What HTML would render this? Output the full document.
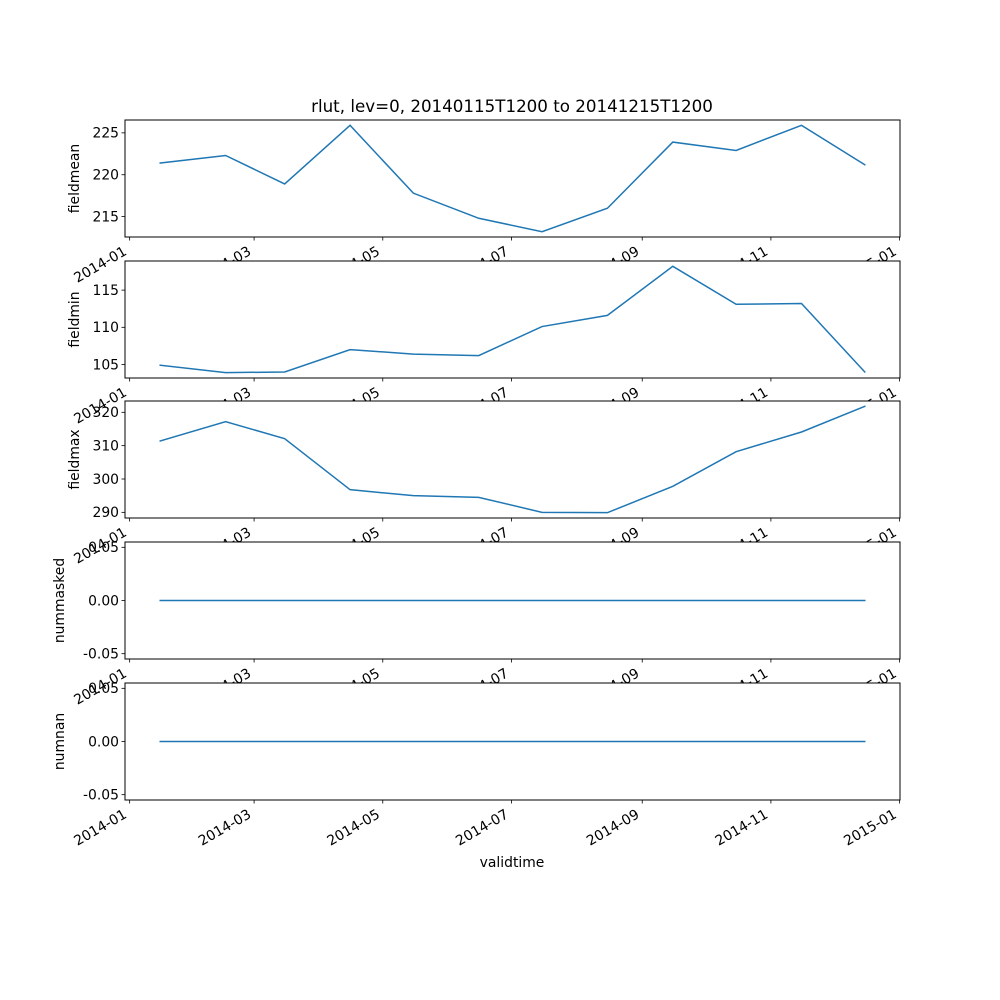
<!DOCTYPE html>
<html><head><meta charset="utf-8"><style>
html,body{margin:0;padding:0;background:#fff}
svg{display:block;font-family:"DejaVu Sans","Liberation Sans",sans-serif}
</style></head><body>
<svg id="chart" width="1000" height="1000" xmlns="http://www.w3.org/2000/svg">
<rect width="1000" height="1000" fill="#fff"/>
<text x="512" y="112" font-size="16.7" text-anchor="middle">rlut, lev=0, 20140115T1200 to 20141215T1200</text>
<text x="512" y="867" font-size="13.9" text-anchor="middle">validtime</text>
</svg>
<script>
const months = [0,1,2,3,4,5,6,7,8,9,10,11];
const fieldmean = [221.4,222.3,218.9,225.9,217.8,214.8,213.2,216.0,223.9,222.9,225.9,221.2];
const fieldmin = [104.9,103.9,104.0,107.0,106.4,106.2,110.1,111.6,118.2,113.1,113.2,104.0];
const fieldmax = [311.4,317.2,312.1,296.8,295.0,294.5,290.0,289.9,297.8,308.2,314.1,321.8];
const nummasked = [0,0,0,0,0,0,0,0,0,0,0,0];
const numnan = [0,0,0,0,0,0,0,0,0,0,0,0];
const tickLabels = ["2014-01","2014-03","2014-05","2014-07","2014-09","2014-11","2015-01"];
const ticksMean = [215,220,225], ticksMin=[105,110,115], ticksMax=[290,300,310,320], ticksZero=[-0.05,0,0.05];

const svg=document.getElementById('chart');
const NS="http://www.w3.org/2000/svg";
function el(t,a){const e=document.createElementNS(NS,t);for(const k in a)e.setAttribute(k,a[k]);return e;}
const X0=125,X1=900;
function dayOfYear(m,d){const dt=Date.UTC(2014,m,d);return (dt-Date.UTC(2014,0,1))/86400000;}
const dStart=dayOfYear(0,15)+0.5, dEnd=dayOfYear(11,15)+0.5, marg=(dEnd-dStart)*0.05;
const xmin=dStart-marg,xmax=dEnd+marg;
function xs(d){return X0+(d-xmin)/(xmax-xmin)*(X1-X0);}
const tickDays=[0,2,4,6,8,10,12].map(m=>m<12?dayOfYear(m,1):365);

const panels=[
 {name:"fieldmean",data:fieldmean,ticks:ticksMean,top:120,fmt:v=>String(v)},
 {name:"fieldmin",data:fieldmin,ticks:ticksMin,top:261,fmt:v=>String(v)},
 {name:"fieldmax",data:fieldmax,ticks:ticksMax,top:401,fmt:v=>String(v)},
 {name:"nummasked",data:nummasked,ticks:ticksZero,top:542,fmt:v=>v.toFixed(2)},
 {name:"numnan",data:numnan,ticks:ticksZero,top:683,fmt:v=>v.toFixed(2)}
];
const H=117;
panels.forEach((p,pi)=>{
  const g=el('g',{});
  
  
  svg.appendChild(g);
  let lo=Math.min(...p.data),hi=Math.max(...p.data);
  if(hi===lo){lo=-0.05;hi=0.05;}
  const m=(hi-lo)*0.05;lo-=m;hi+=m;
  const ys=v=>p.top+H-(v-lo)/(hi-lo)*H;
  g.appendChild(el('rect',{x:X0,y:p.top,width:X1-X0,height:H,fill:'#fff'}));
  const pts=p.data.map((v,i)=>xs(dayOfYear(months[i],15)+0.5).toFixed(2)+','+ys(v).toFixed(2)).join(' ');
  const line=el('polyline',{points:pts,fill:'none',stroke:'#1f77b4','stroke-width':1.5,'stroke-linecap':'square'});
  
  
  g.appendChild(line);
  g.appendChild(el('rect',{x:X0,y:p.top,width:X1-X0,height:H,fill:'none',stroke:'#000','stroke-width':1}));
  p.ticks.forEach(t=>{
    const y=ys(t);
    g.appendChild(el('line',{x1:X0-3.5,x2:X0,y1:y,y2:y,stroke:'#000','stroke-width':0.8}));
    const tx=el('text',{x:X0-6,y:y+4.8,'font-size':13.9,'text-anchor':'end'});
    
    
    tx.textContent=p.fmt(t);g.appendChild(tx);
  });
  const yl=el('text',{transform:`translate(${p.name.startsWith('num')?64:79},${p.top+H/2}) rotate(-90)`,'font-size':13.9,'text-anchor':'middle'});
  
  
  yl.textContent=p.name;g.appendChild(yl);
  const yb=p.top+H;
  tickDays.forEach((d,i)=>{
    const x=xs(d);
    g.appendChild(el('line',{x1:x,x2:x,y1:yb,y2:yb+3.5,stroke:'#000','stroke-width':0.8}));
    const tx=el('text',{transform:`translate(${x-2},${yb+17}) rotate(-30)`,'font-size':13.9,'text-anchor':'end'});
    
    
    tx.textContent=tickLabels[i];g.appendChild(tx);
  });
});
</script>
</body></html>
